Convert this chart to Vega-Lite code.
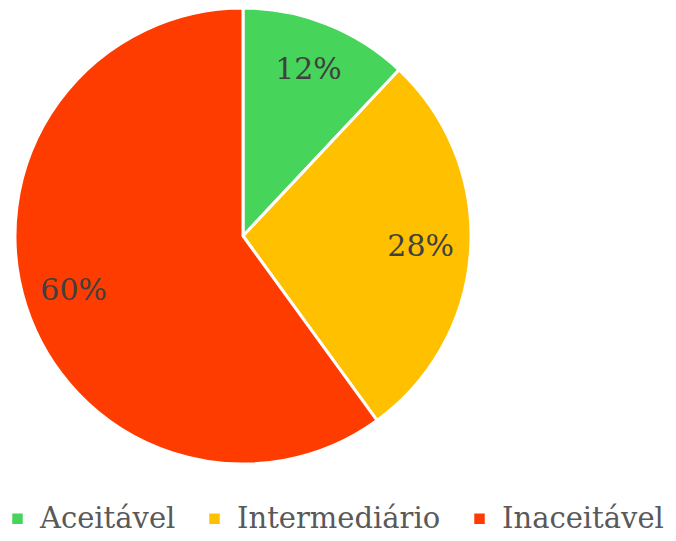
{
  "$schema": "https://vega.github.io/schema/vega-lite/v6.json",
  "width": 486,
  "height": 472,
  "padding": {"left": 0, "top": 0, "right": 190, "bottom": 69},
  "autosize": {"type": "none"},
  "background": "white",
  "config": {"view": {"stroke": null}, "font": "DejaVu Serif"},
  "data": {"values": [
    {"categoria": "Aceitável", "valor": 12, "rotulo": "12%", "ordem": 1},
    {"categoria": "Intermediário", "valor": 28, "rotulo": "28%", "ordem": 2},
    {"categoria": "Inaceitável", "valor": 60, "rotulo": "60%", "ordem": 3}
  ]},
  "encoding": {
    "theta": {"field": "valor", "type": "quantitative", "stack": true},
    "order": {"field": "ordem", "type": "quantitative"},
    "color": {
      "field": "categoria",
      "type": "nominal",
      "scale": {"domain": ["Aceitável", "Intermediário", "Inaceitável"], "range": ["#47D45A", "#FFC000", "#FF3C00"]},
      "sort": ["Aceitável", "Intermediário", "Inaceitável"],
      "legend": {
        "title": null,
        "orient": "none",
        "direction": "horizontal",
        "legendX": 3,
        "legendY": 504,
        "symbolType": "square",
        "symbolSize": 110,
        "symbolStrokeWidth": 0,
        "labelFont": "DejaVu Serif",
        "labelFontSize": 29,
        "labelColor": "#595959",
        "labelOffset": 8,
        "columnPadding": 24,
        "labelLimit": 300
      }
    }
  },
  "layer": [
    {"mark": {"type": "arc", "outerRadius": 228, "stroke": "white", "strokeWidth": 3}},
    {"mark": {"type": "text", "radius": 178, "font": "DejaVu Serif", "fontSize": 30, "fill": "#404040"},
     "encoding": {"text": {"field": "rotulo"}, "color": {"value": "#404040"}}}
  ]
}
